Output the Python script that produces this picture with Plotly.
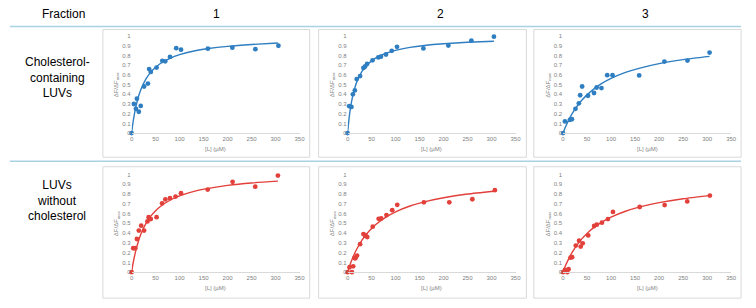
import plotly.graph_objects as go

W, H = 756, 308

# ---------------- data ----------------
COLUMNS = ["1", "2", "3"]
ROWS = ["Cholesterol-<br>containing<br>LUVs", "LUVs<br>without<br>cholesterol"]
X_TITLE = "[L] (µM)"
Y_TITLE = "ΔF/ΔF<sub>max</sub>"
X_TICKS = [0, 50, 100, 150, 200, 250, 300, 350]
Y_TICKS = [0, 0.1, 0.2, 0.3, 0.4, 0.5, 0.6, 0.7, 0.8, 0.9, 1]
Y_TICKTEXT = ["0", "0.1", "0.2", "0.3", "0.4", "0.5", "0.6", "0.7", "0.8", "0.9", "1"]

# row 1 (cholesterol-containing LUVs)
c1_x = [0, 4.8, 9, 11, 15, 19, 26, 34, 36.5, 40, 52, 64, 70, 80, 93, 103, 159, 210, 258, 306]
c1_y = [0, 0.30, 0.25, 0.355, 0.22, 0.28, 0.48, 0.51, 0.66, 0.63, 0.675, 0.745, 0.74, 0.785, 0.875, 0.86, 0.87, 0.88, 0.865, 0.90]
c2_x = [0, 3.4, 8, 11, 15, 19, 26, 33, 36.5, 40.6, 52, 64, 69.5, 80, 92, 103, 158, 210, 258, 305]
c2_y = [0, 0.277, 0.27, 0.40, 0.44, 0.557, 0.588, 0.672, 0.686, 0.713, 0.75, 0.78, 0.787, 0.81, 0.848, 0.889, 0.872, 0.902, 0.953, 0.993]
c3_x = [0, 4, 14.4, 18.5, 26, 33, 35.7, 39.8, 52, 64.5, 70, 80, 92, 103, 158.5, 211, 259, 305]
c3_y = [0, 0.12, 0.137, 0.143, 0.25, 0.307, 0.39, 0.48, 0.385, 0.413, 0.47, 0.464, 0.597, 0.597, 0.594, 0.737, 0.747, 0.83]

# row 2 (LUVs without cholesterol)
n1_x = [0, 3.4, 7.5, 11, 15, 20, 26, 33, 35.5, 40, 52, 63.6, 70.4, 80, 91.6, 103, 158.6, 210.5, 257.7, 305]
n1_y = [0, 0.245, 0.245, 0.34, 0.426, 0.476, 0.426, 0.52, 0.564, 0.544, 0.564, 0.705, 0.745, 0.758, 0.775, 0.809, 0.846, 0.926, 0.876, 0.99]
n2_x = [0, 4, 9, 11.6, 14.3, 16.3, 19.7, 26, 33, 36, 38, 41, 52.4, 64.7, 70, 81, 93, 103.5, 159, 212, 260, 307]
n2_y = [0, 0.05, 0.0, 0.06, 0.145, 0.142, 0.17, 0.287, 0.39, 0.378, 0.372, 0.36, 0.466, 0.547, 0.55, 0.585, 0.635, 0.69, 0.716, 0.716, 0.747, 0.84]
n3_x = [0, 4, 9, 11.6, 15.7, 19, 26.6, 33.4, 36.8, 41, 52.5, 64.8, 70.3, 81, 93.5, 104, 159.6, 211.5, 258.5, 305.6]
n3_y = [0, 0.023, 0.0, 0.03, 0.148, 0.154, 0.272, 0.322, 0.262, 0.295, 0.376, 0.473, 0.487, 0.507, 0.544, 0.617, 0.668, 0.688, 0.725, 0.785]

# fitted curves, read at these concentrations
fit_x = [0, 3, 6, 10, 15, 20, 30, 40, 50, 60, 80, 100, 130, 160, 200, 250, 305]
fit_c1 = [0, 0.112, 0.202, 0.297, 0.388, 0.458, 0.559, 0.628, 0.678, 0.717, 0.771, 0.808, 0.846, 0.871, 0.894, 0.913, 0.928]
fit_c2 = [0, 0.149, 0.259, 0.368, 0.466, 0.538, 0.636, 0.699, 0.744, 0.777, 0.823, 0.853, 0.883, 0.903, 0.921, 0.936, 0.947]
fit_c3 = [0, 0.038, 0.073, 0.116, 0.165, 0.208, 0.282, 0.343, 0.394, 0.438, 0.509, 0.563, 0.625, 0.670, 0.716, 0.757, 0.790]
fit_n1 = [0, 0.089, 0.163, 0.246, 0.330, 0.398, 0.500, 0.574, 0.630, 0.673, 0.737, 0.781, 0.828, 0.859, 0.889, 0.914, 0.933]
fit_n2 = [0, 0.047, 0.089, 0.140, 0.196, 0.245, 0.328, 0.394, 0.448, 0.493, 0.564, 0.618, 0.678, 0.721, 0.763, 0.801, 0.830]
fit_n3 = [0, 0.039, 0.075, 0.118, 0.167, 0.211, 0.285, 0.346, 0.397, 0.441, 0.510, 0.564, 0.624, 0.669, 0.713, 0.753, 0.785]

BLUE = "#2e7ec1"
RED = "#e2403b"

panels = [
    (c1_x, c1_y, fit_c1, BLUE, 0, 0),
    (c2_x, c2_y, fit_c2, BLUE, 0, 1),
    (c3_x, c3_y, fit_c3, BLUE, 0, 2),
    (n1_x, n1_y, fit_n1, RED, 1, 0),
    (n2_x, n2_y, fit_n2, RED, 1, 1),
    (n3_x, n3_y, fit_n3, RED, 1, 2),
]

# ---------------- layout geometry (pixels) ----------------
def fx(px):
    return px / W

def fy(py):
    return 1 - py / H

AX_X = [(131, 300.7), (349.3, 519), (567, 737)]     # x pixel of 0 and 350
AX_Y = [(132.7, 33.7), (274.5, 175)]                 # y pixel of 0 and 1
BOX_X = [(102, 311), (320, 530), (537.5, 747)]
BOX_Y = [(27, 157.3), (167, 301)]
XTITLE_Y = [149, 290.5]

SMALL = dict(size=6, color="#7f7f7f")

fig = go.Figure()
layout = dict(
    width=W, height=H, margin=dict(l=0, r=0, t=0, b=0),
    paper_bgcolor="white", plot_bgcolor="rgba(0,0,0,0)",
    showlegend=False,
    font=dict(family="Liberation Sans, Arial, sans-serif", color="#000000"),
    shapes=[], annotations=[],
)

for i, (xs, ys, fit, col, r, c) in enumerate(panels):
    k = i + 1
    xa = "x" if k == 1 else f"x{k}"
    ya = "y" if k == 1 else f"y{k}"
    fig.add_trace(go.Scatter(x=fit_x, y=fit, mode="lines", line=dict(color=col, width=1.4, shape="spline", smoothing=0.6),
                             xaxis=xa, yaxis=ya, hoverinfo="skip"))
    fig.add_trace(go.Scatter(x=xs, y=ys, mode="markers", marker=dict(color=col, size=4.8),
                             xaxis=xa, yaxis=ya, cliponaxis=False))
    x0, x1 = AX_X[c]
    y0, y1 = AX_Y[r]
    layout[f"xaxis{k if k > 1 else ''}"] = dict(
        domain=[fx(x0), fx(x1)], range=[0, 350], anchor=ya,
        tickvals=X_TICKS, ticktext=[str(v) for v in X_TICKS],
        tickfont=SMALL, ticks="", ticklen=0,
        showline=True, linecolor="#d9d9d9", linewidth=1, showgrid=False, zeroline=False,
    )
    layout[f"yaxis{k if k > 1 else ''}"] = dict(
        domain=[fy(y0), fy(y1)], range=[0, 1], anchor=xa,
        tickvals=Y_TICKS, ticktext=Y_TICKTEXT,
        tickfont=SMALL, ticks="", ticklen=0,
        showline=False, showgrid=False, zeroline=False,
    )
    # axis titles as annotations
    layout["annotations"].append(dict(text=X_TITLE, x=fx((x0 + x1) / 2), y=fy(XTITLE_Y[r]), xref="paper", yref="paper",
                                      showarrow=False, font=SMALL, xanchor="center", yanchor="middle"))
    layout["annotations"].append(dict(text=Y_TITLE, x=fx(x0 - 15), y=fy((y0 + y1) / 2), xref="paper", yref="paper",
                                      showarrow=False, font=SMALL, xanchor="center", yanchor="middle", textangle=-90))

for r in range(2):
    for c in range(3):
        bx0, bx1 = BOX_X[c]
        by0, by1 = BOX_Y[r]
        layout["shapes"].append(dict(type="rect", xref="paper", yref="paper", layer="below",
                                     x0=fx(bx0), x1=fx(bx1), y0=fy(by1), y1=fy(by0),
                                     line=dict(color="#d9d9d9", width=1), fillcolor="white"))

# separators
for py in (24, 161.5):
    layout["shapes"].append(dict(type="line", xref="paper", yref="paper", x0=fx(8), x1=fx(747),
                                 y0=fy(py), y1=fy(py), line=dict(color="#a9d2e3", width=1.5)))

# header
HEAD_X = [217, 443, 650]
layout["annotations"].append(dict(text="Fraction", x=fx(62), y=fy(11), xref="paper", yref="paper",
                                  showarrow=False, font=dict(size=12), xanchor="center", yanchor="middle"))
for t, hx in zip(COLUMNS, HEAD_X):
    layout["annotations"].append(dict(text=t, x=fx(hx), y=fy(11), xref="paper", yref="paper",
                                      showarrow=False, font=dict(size=12), xanchor="center", yanchor="middle"))
# row labels
for t, ry in zip(ROWS, (76, 201)):
    layout["annotations"].append(dict(text=t, x=fx(56), y=fy(ry), xref="paper", yref="paper",
                                      showarrow=False, font=dict(size=12), xanchor="center", yanchor="middle",
                                      align="center"))

fig.update_layout(**layout)
fig.write_html("out.html")
